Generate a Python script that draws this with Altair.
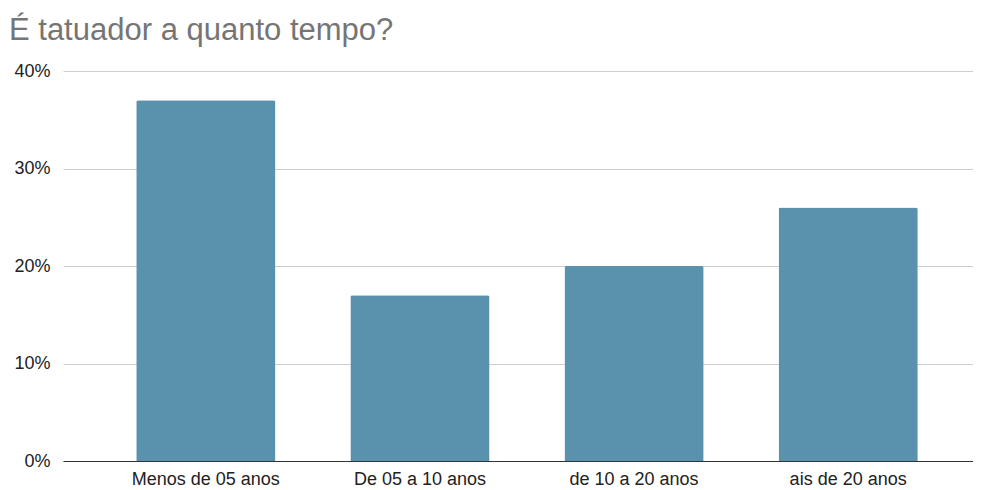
import altair as alt
import pandas as pd

categories = ["Menos de 05 anos", "De 05 a 10 anos", "de 10 a 20 anos", "ais de 20 anos"]
values = [0.37, 0.17, 0.20, 0.26]

df = pd.DataFrame({"cat": categories, "val": values})

FONT = "Liberation Sans"

bars = alt.Chart(df).mark_bar(
    color="#5a91ad", cornerRadiusTopLeft=2, cornerRadiusTopRight=2
).encode(
    x=alt.X(
        "cat:N",
        sort=None,
        title=None,
        scale=alt.Scale(paddingInner=0.35, paddingOuter=0.3, align=0.57),
        axis=alt.Axis(
            labelAngle=0, labelFont=FONT, labelFontSize=18, labelColor="#222222",
            labelPadding=9, ticks=False, domain=True, domainColor="#333333",
            domainWidth=1.2, grid=False,
        ),
    ),
    y=alt.Y(
        "val:Q",
        title=None,
        scale=alt.Scale(domain=[0, 0.4], nice=False),
        axis=alt.Axis(
            format=".0%", values=[0, 0.1, 0.2, 0.3, 0.4], labelFont=FONT,
            labelFontSize=18, labelColor="#222222", labelPadding=13,
            ticks=False, domain=False, grid=True, gridColor="#cfcfcf",
        ),
    ),
)

chart = bars.properties(
    width=910,
    height=390,
    title=alt.TitleParams(
        "É tatuador a quanto tempo?", anchor="start", font=FONT, fontSize=31,
        fontWeight="normal", color="#757575", dx=-5, offset=15,
    ),
    autosize=alt.AutoSizeParams(type="none"),
    padding={"left": 55, "top": 63, "right": 0, "bottom": 27},
).configure_view(stroke=None)

chart.save("out.html", embed_options={"renderer": "svg", "actions": False})
